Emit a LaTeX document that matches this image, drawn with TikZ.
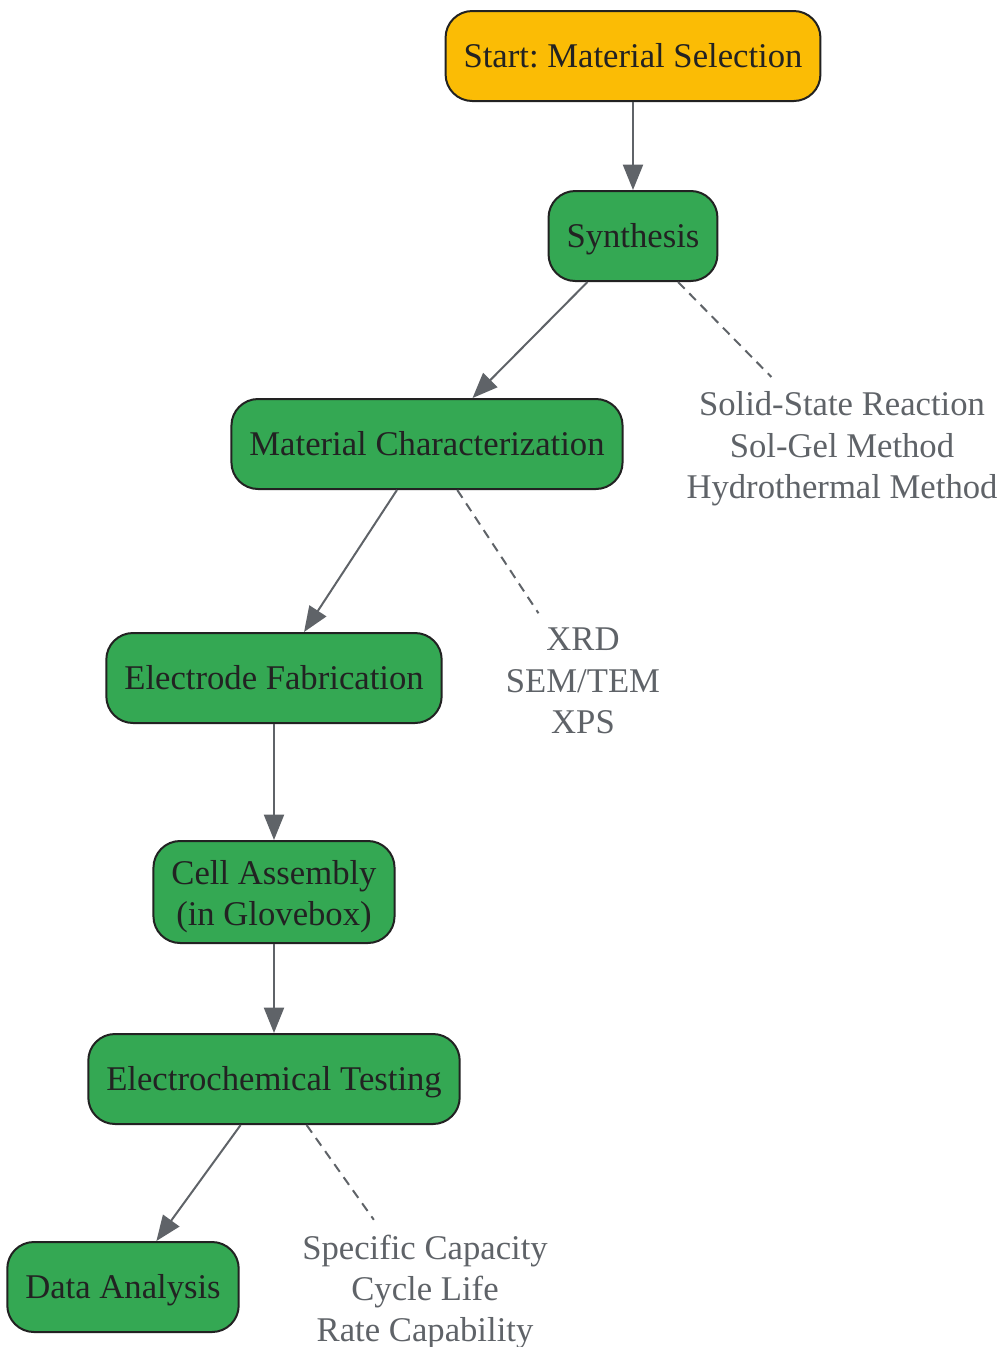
\documentclass[tikz,border=0pt]{standalone}
\usepackage{fontspec}
\setmainfont{Liberation Serif}
\usetikzlibrary{arrows.meta}
\definecolor{startyellow}{HTML}{FBBC05}
\definecolor{stagegreen}{HTML}{34A853}
\definecolor{boxline}{HTML}{222222}
\definecolor{linkgray}{HTML}{5F6368}
\begin{document}
\frenchspacing
\begin{tikzpicture}[x=0.75pt, y=-0.75pt,
    every node/.style={font=\fontsize{26}{31}\selectfont},
    stage/.style={draw=boxline, line width=1.5pt, rounded corners=20pt,
        fill=stagegreen, text=boxline, minimum height=67.5pt,
        text height=18pt, text depth=1.5pt,
        inner xsep=13.5pt, align=center},
    note/.style={text=linkgray, align=center, inner xsep=4pt, inner ysep=11pt},
    flow/.style={draw=linkgray, line width=1.5pt,
        -{Triangle[length=19pt, width=15pt]}},
    aside/.style={draw=linkgray, line width=1.5pt, dash pattern=on 7pt off 5pt}]
    \useasboundingbox (0,0) rectangle (1001,1347);

    % Main workflow
    \node[stage, fill=startyellow] (start) at (633,56) {Start: Material Selection};
    \node[stage] (synth) at (633,236) {Synthesis};
    \node[stage] (charact) at (427,444) {Material Characterization};
    \node[stage] (electrode) at (274,678) {Electrode Fabrication};
    \node[stage, minimum height=76.5pt, text height=52pt, text depth=1.2pt] (assembly) at (274,892) {Cell Assembly\\(in Glovebox)};
    \node[stage] (testing) at (274,1079) {Electrochemical Testing};
    \node[stage] (analysis) at (123,1287) {Data Analysis};

    % Side notes
    \node[note] (synthnote) at (842,449) {Solid-State Reaction\\Sol-Gel Method\\Hydrothermal Method};
    \node[note] (charnote) at (583,681) {XRD\\SEM/TEM\\XPS};
    \node[note] (testnote) at (425,1292) {Specific Capacity\\Cycle Life\\Rate Capability};

    % Arrows
    \foreach \a/\b in {start/synth, synth/charact, charact/electrode,
                       electrode/assembly, assembly/testing, testing/analysis} {
        \draw[flow] (\a) -- (\b);
    }

    % Dashed links to notes
    \foreach \a/\b in {synth/synthnote, charact/charnote, testing/testnote} {
        \draw[aside] (\a) -- (\b);
    }
\end{tikzpicture}
\end{document}
